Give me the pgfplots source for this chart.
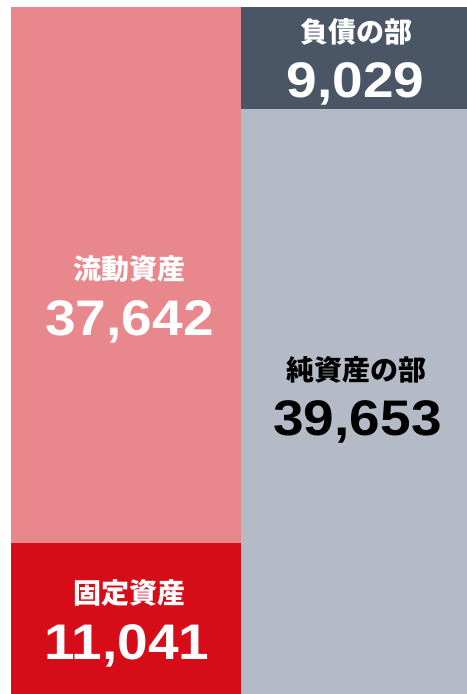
\documentclass[border=0pt]{standalone}
\usepackage{fontspec}
\setmainfont{Liberation Sans}
\newfontfamily\cjk{Noto Sans CJK JP}
\newfontfamily\num[FakeStretch=1.1]{Liberation Sans}
\usepackage{pgfplots}
\pgfplotsset{compat=1.18}

\definecolor{ryudo}{HTML}{E8878C}
\definecolor{kotei}{HTML}{D60C18}
\definecolor{fusai}{HTML}{4A5565}
\definecolor{junshi}{HTML}{B4BBC7}

\begin{document}
\begin{tikzpicture}
\begin{axis}[
  scale only axis,
  width=467bp, height=694bp,
  xmin=0, xmax=467,
  ymin=0, ymax=49176,
  hide axis,
  clip=false,
]
% heights as drawn (px-proportional); labels carry the stated values
\addplot[ybar stacked, fill=kotei,  draw=none, bar width=230] coordinates {(126,10700) (354,0)};
\addplot[ybar stacked, fill=ryudo,  draw=none, bar width=230] coordinates {(126,37980) (354,0)};
\addplot[ybar stacked, fill=junshi, draw=none, bar width=226] coordinates {(126,0) (354,41474)};
\addplot[ybar stacked, fill=fusai,  draw=none, bar width=226] coordinates {(126,0) (354,7206)};

\path (rel axis cs:0,0) (rel axis cs:1,1);

\node[anchor=base, inner sep=0pt, text=white, font=\cjk\bfseries\fontsize{28bp}{30bp}\selectfont] at (axis cs:129.5,29336) {流動資産};
\node[anchor=base, inner sep=0pt, text=white, font=\num\bfseries\fontsize{50bp}{52bp}\selectfont] at (axis cs:129.5,25438) {37,642};
\node[anchor=base, inner sep=0pt, text=white, font=\cjk\bfseries\fontsize{28bp}{30bp}\selectfont] at (axis cs:129.5,6448) {固定資産};
\node[anchor=base, inner sep=0pt, text=white, font=\num\bfseries\fontsize{50bp}{52bp}\selectfont] at (axis cs:127,2480) {11,041};
\node[anchor=base, inner sep=0pt, text=black, font=\cjk\bfseries\fontsize{28bp}{30bp}\selectfont] at (axis cs:356,22179) {純資産の部};
\node[anchor=base, inner sep=0pt, text=black, font=\num\bfseries\fontsize{50bp}{52bp}\selectfont] at (axis cs:357.5,18352) {39,653};
\node[anchor=base, inner sep=0pt, text=white, font=\cjk\bfseries\fontsize{28bp}{30bp}\selectfont] at (axis cs:356,46129) {負債の部};
\node[anchor=base, inner sep=0pt, text=white, font=\num\bfseries\fontsize{50bp}{52bp}\selectfont] at (axis cs:355.5,42232) {9,029};
\end{axis}
\end{tikzpicture}
\end{document}
